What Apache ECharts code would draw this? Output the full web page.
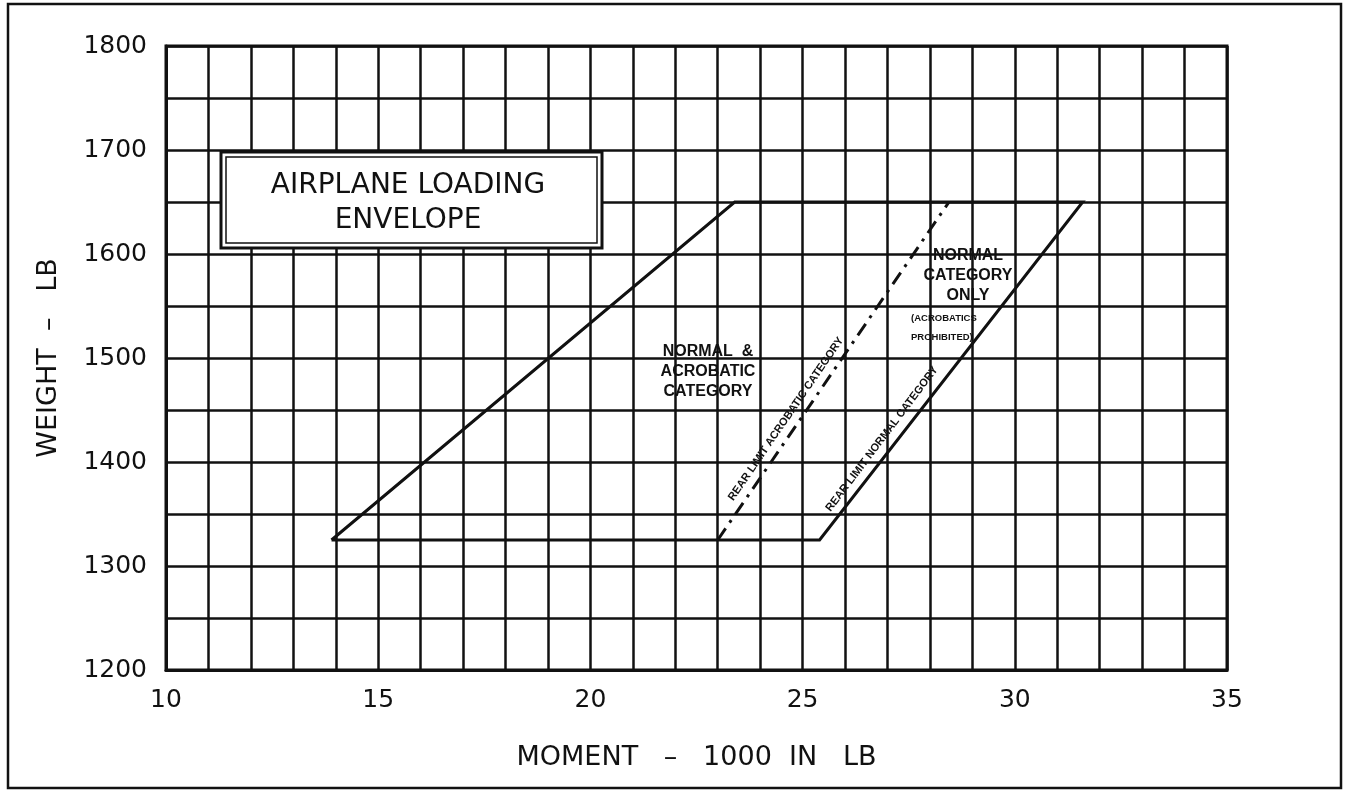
<!DOCTYPE html>
<html>
<head>
<meta charset="utf-8">
<script src="https://cdn.jsdelivr.net/npm/echarts@6/dist/echarts.min.js"></script>
<style>
  html, body { margin: 0; padding: 0; background: #ffffff; }
  #chart { width: 1356px; height: 803px; }
</style>
</head>
<body>
<div id="chart"></div>
<script>
// ---- data ----
const xTickLabels = [10, 15, 20, 25, 30, 35];
const yTickLabels = [1200, 1300, 1400, 1500, 1600, 1700, 1800];

// Loading envelope (moment in 1000 in-lb, weight in lb)
const envelopeMoment = [13.9, 23.4, 31.6, 25.4, 13.9];
const envelopeWeight = [1325, 1650, 1650, 1325, 1325];

// Rear limit, acrobatic category (dashed)
const acroLimitMoment = [23.0, 28.45];
const acroLimitWeight = [1325, 1650];

const titleLines = ['AIRPLANE LOADING', 'ENVELOPE'];
const xAxisTitle = 'MOMENT   \u2013   1000  IN   LB';
const yAxisTitle = 'WEIGHT  \u2013   LB';

// ---- chart ----
const chart = echarts.init(document.getElementById('chart'), null, { renderer: 'canvas' });

const pairs = (xs, ys) => xs.map((x, i) => [x, ys[i]]);
const INK = '#111';
const tickFont = '"DejaVu Sans", sans-serif';
const noteFont = '"Liberation Sans", Arial, sans-serif';

const deg = d => d * Math.PI / 180;

const option = {
  backgroundColor: '#ffffff',
  animation: false,
  grid: {
    left: 166, right: 129, top: 46, bottom: 133,
    show: true, borderColor: INK, borderWidth: 3, backgroundColor: 'transparent'
  },
  xAxis: {
    type: 'value', min: 10, max: 35, interval: 1,
    axisLine: { show: true, lineStyle: { color: INK, width: 3 } },
    axisTick: { show: false },
    splitLine: { show: true, lineStyle: { color: INK, width: 2.5 } },
    axisLabel: {
      margin: 18, color: INK, fontSize: 25, fontFamily: tickFont,
      formatter: v => xTickLabels.includes(v) ? String(v) : ''
    },
    name: xAxisTitle, nameLocation: 'middle', nameGap: 74,
    nameTextStyle: { color: INK, fontSize: 27, fontFamily: tickFont }
  },
  yAxis: {
    type: 'value', min: 1200, max: 1800, interval: 50,
    axisLine: { show: true, lineStyle: { color: INK, width: 3 } },
    axisTick: { show: false },
    splitLine: { show: true, lineStyle: { color: INK, width: 2.5 } },
    axisLabel: {
      margin: 19, color: INK, fontSize: 25, fontFamily: tickFont,
      formatter: v => yTickLabels.includes(v) ? String(v) : ''
    },
    name: yAxisTitle, nameLocation: 'middle', nameGap: 104,
    nameTextStyle: { color: INK, fontSize: 27, fontFamily: tickFont }
  },
  series: [
    {
      name: 'Envelope', type: 'line', symbol: 'none',
      data: pairs(envelopeMoment, envelopeWeight),
      lineStyle: { color: INK, width: 3, join: 'miter' },
      z: 5
    },
    {
      name: 'Rear limit acrobatic', type: 'line', symbol: 'none',
      data: pairs(acroLimitMoment, acroLimitWeight),
      lineStyle: { color: INK, width: 3, type: [14, 7, 3, 7] },
      z: 5
    }
  ],
  graphic: [
    // outer frame
    { type: 'rect', shape: { x: 8, y: 4, width: 1333, height: 784 },
      style: { fill: 'none', stroke: INK, lineWidth: 2.5 }, z: 100 },
    // title box (double border)
    { type: 'rect', shape: { x: 221, y: 152, width: 381, height: 96 },
      style: { fill: '#ffffff', stroke: INK, lineWidth: 3 }, z: 100 },
    { type: 'rect', shape: { x: 226, y: 157, width: 371, height: 86 },
      style: { fill: '#ffffff', stroke: INK, lineWidth: 1.5 }, z: 101 },
    { type: 'text', x: 408, y: 186, z: 102,
      style: { text: titleLines[0], align: 'center', verticalAlign: 'middle',
               font: '28px "DejaVu Sans", sans-serif', fill: INK } },
    { type: 'text', x: 408, y: 221, z: 102,
      style: { text: titleLines[1], align: 'center', verticalAlign: 'middle',
               font: '28px "DejaVu Sans", sans-serif', fill: INK } },
    // region labels
    { type: 'text', x: 708, y: 372, z: 102,
      style: { text: 'NORMAL  &\nACROBATIC\nCATEGORY', align: 'center', verticalAlign: 'middle',
               font: 'bold 16px ' + noteFont, lineHeight: 20, fill: INK } },
    { type: 'text', x: 968, y: 276, z: 102,
      style: { text: 'NORMAL\nCATEGORY\nONLY', align: 'center', verticalAlign: 'middle',
               font: 'bold 16px ' + noteFont, lineHeight: 20, fill: INK } },
    { type: 'text', x: 911, y: 328, z: 102,
      style: { text: '(ACROBATICS\nPROHIBITED)', align: 'left', verticalAlign: 'middle',
               font: 'bold 9.5px ' + noteFont, lineHeight: 19, fill: INK } },
    // rotated limit labels
    { type: 'text', x: 786, y: 419, rotation: deg(55.6), z: 102,
      style: { text: 'REAR LIMIT ACROBATIC CATEGORY', align: 'center', verticalAlign: 'middle',
               font: 'bold 11px ' + noteFont, fill: INK } },
    { type: 'text', x: 882, y: 439, rotation: deg(52.9), z: 102,
      style: { text: 'REAR LIMIT NORMAL CATEGORY', align: 'center', verticalAlign: 'middle',
               font: 'bold 11px ' + noteFont, fill: INK } }
  ]
};

chart.setOption(option);
</script>
</body>
</html>
